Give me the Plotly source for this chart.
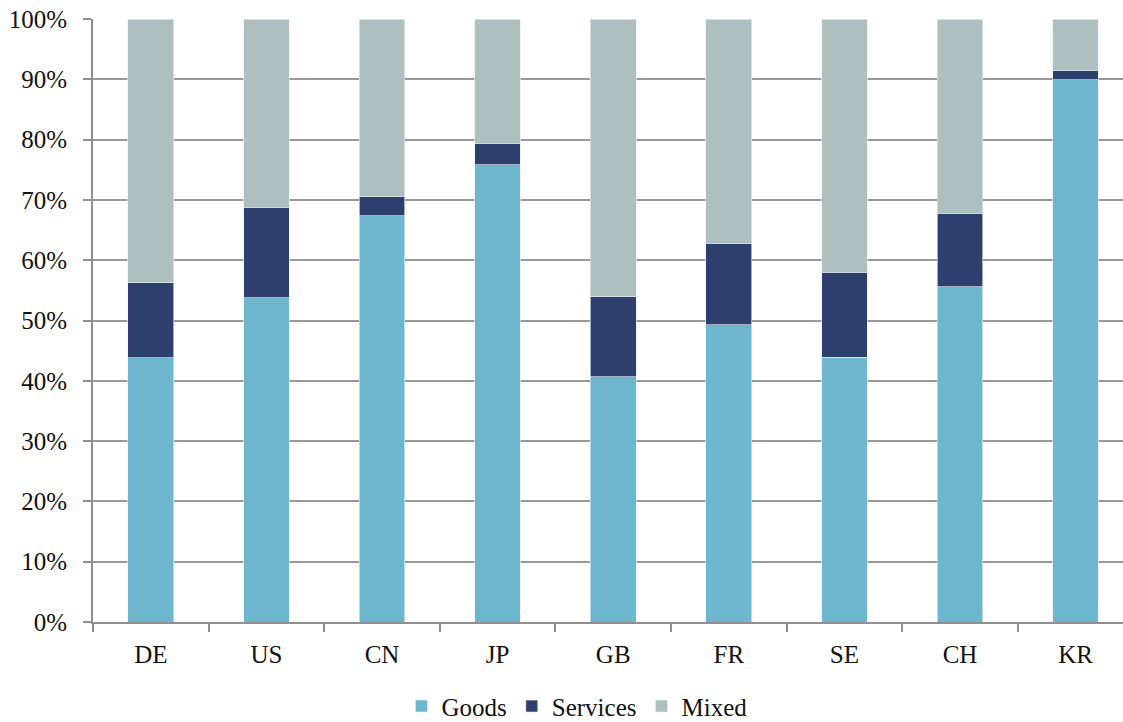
import plotly.graph_objects as go

countries = ["DE", "US", "CN", "JP", "GB", "FR", "SE", "CH", "KR"]
goods = [43.8, 53.8, 67.4, 75.8, 40.7, 49.3, 43.9, 55.6, 89.9]
services = [12.5, 15.0, 3.1, 3.6, 13.2, 13.4, 14.1, 12.2, 1.6]
mixed = [100 - g - s for g, s in zip(goods, services)]

colors = {"Goods": "#6EB5CE", "Services": "#2E3F6E", "Mixed": "#ADBFBF"}
font_family = "'Liberation Serif', 'Times New Roman', serif"

fig = go.Figure()
for name, vals in [("Goods", goods), ("Services", services), ("Mixed", mixed)]:
    fig.add_trace(go.Bar(
        x=countries, y=vals, name=name, width=0.395,
        marker=dict(color=colors[name], line=dict(color="rgba(230,240,245,0.8)", width=0.8)),
    ))

fig.update_layout(
    barmode="stack",
    width=1123, height=722,
    margin=dict(l=93, r=0, t=19, b=100),
    paper_bgcolor="white", plot_bgcolor="white",
    font=dict(family=font_family, size=25, color="#111"),
    showlegend=True,
    legend=dict(orientation="h", xref="container", yref="container",
                x=0.5138, xanchor="center", y=0.0217, yanchor="middle",
                font=dict(family=font_family, size=25), traceorder="normal", itemwidth=30),
    xaxis=dict(
        range=[-0.5, 8.41], showgrid=False, showline=True, linecolor="#8f8f8f", linewidth=2,
        ticks="outside", tickson="boundaries", ticklen=8, tickwidth=2, tickcolor="#8f8f8f",
        tickfont=dict(family=font_family, size=25), ticklabelstandoff=9, automargin=False,
    ),
    yaxis=dict(
        range=[0, 100], tickvals=list(range(0, 101, 10)),
        ticktext=[f"{v}%" for v in range(0, 101, 10)],
        showgrid=True, gridcolor="#999999", gridwidth=1.6,
        showline=True, linecolor="#8f8f8f", linewidth=2,
        ticks="outside", ticklen=8, tickwidth=2, tickcolor="#8f8f8f",
        tickfont=dict(family=font_family, size=25), ticklabelstandoff=11,
        ticklabeloverflow="allow", automargin=False,
    ),
)

fig.write_html("out.html", config={"displayModeBar": False},
               post_script="document.body.style.margin='0';")
